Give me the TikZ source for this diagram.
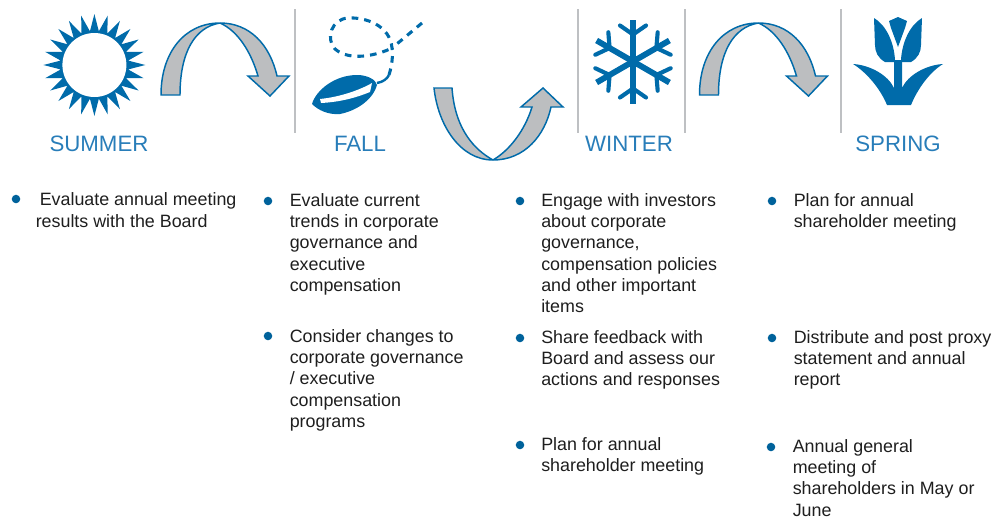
\documentclass[tikz,border=0pt]{standalone}
\usepackage{fontspec}
\setmainfont{Liberation Sans}
\usetikzlibrary{shapes.geometric}
\definecolor{iconblue}{RGB}{0,107,170}
\definecolor{labelblue}{RGB}{40,125,185}
\definecolor{bulletblue}{RGB}{0,98,155}
\definecolor{arrowfill}{RGB}{188,190,192}
\definecolor{rulegray}{RGB}{190,192,195}
\definecolor{bodytextcol}{RGB}{30,30,30}
\tikzset{
  season/.style={font=\fontsize{16.7}{20}\selectfont, text=labelblue, inner sep=0pt},
  bodytext/.style={anchor=north west, align=left, inner sep=0pt, text=bodytextcol, font=\fontsize{13.4}{16}\selectfont},
  bulletdot/.style={circle, fill=bulletblue, minimum size=6.4pt, inner sep=0pt},
  turnarrow/.style={draw=iconblue, fill=arrowfill, line width=1.1pt, line join=miter},
  divider/.style={draw=rulegray, line width=1.1pt},
  icon/.style={fill=iconblue, draw=none},
  flakeline/.style={draw=iconblue, line width=4.4pt},
  flakebranch/.style={draw=iconblue, line width=3.1pt, line cap=round},
  loopdash/.style={draw=iconblue, line width=2.3pt, dash pattern=on 5pt off 4.5pt},
}
\begin{document}
\begin{tikzpicture}[x=0.75pt, y=-0.75pt]
  \useasboundingbox (0,0) rectangle (1008,522);

  % --- Dividers ---
  \foreach \xpos in {295,578,685,841}
    \draw[divider] (\xpos,9) -- (\xpos,133);

  % --- Sun ---
  \node[icon, star, star points=24, star point ratio=1.5, minimum size=76.5pt, inner sep=0pt] (sunrays) at (94.4,65) {};
  \node[circle, fill=white, minimum size=48pt, inner sep=0pt] (suncore) at (94.4,65) {};

  % --- Leaf ---
  \draw[loopdash] (389,75) .. controls (392,65) and (393,57) .. (392,48)
    .. controls (390,25) and (365,17) .. (348,18)
    .. controls (332,19) and (325,38) .. (335,49)
    .. controls (350,62) and (378,55) .. (392,48);
  \draw[loopdash] (422,23) -- (392,48);
  \fill[iconblue] (312,104) .. controls (316,90) and (335,75) .. (357,75)
    .. controls (368,75) and (376,80) .. (377,85)
    .. controls (374,97) and (360,110) .. (340,114)
    .. controls (328,115) and (318,110) .. cycle;
  \fill[white] (320,99) .. controls (340,97) and (360,90) .. (372,83) -- (370,92)
    .. controls (355,98) and (340,102) .. (321,103) -- cycle;
  \draw[iconblue, line width=1.8pt] (377,83) .. controls (383,82) and (387,79) .. (389,75);

  % --- Snowflake ---
  \foreach \ang in {0,60,...,300} {
    \begin{scope}[shift={(633,61.5)}, rotate=\ang]
      \draw[flakeline] (0,0) -- (0,-42);
      \draw[flakebranch] (0,-27) -- (-13,-36);
      \draw[flakebranch] (0,-27) -- (13,-36);
    \end{scope}
  }

  % --- Tulip ---
  \fill[iconblue] (853,64) .. controls (870,65) and (888,75) .. (894,88) -- (894,60) -- (902,60) -- (902,88)
    .. controls (908,75) and (926,65) .. (943,64)
    .. controls (930,72) and (918,88) .. (911,105) -- (887,105)
    .. controls (880,88) and (866,72) .. cycle;
  \fill[iconblue] (874,18) .. controls (886,25) and (894,42) .. (895,60) -- (895,62) -- (885,62)
    .. controls (878,58) and (875,52) .. (875,45) -- cycle;
  \fill[iconblue] (922,18) .. controls (910,25) and (902,42) .. (901,60) -- (901,62) -- (911,62)
    .. controls (918,58) and (921,52) .. (921,45) -- cycle;
  \fill[iconblue] (898,17) -- (907,21) -- (905,28) -- (898,47) -- (891,28) -- (889,21) -- cycle;

  % --- Turn arrows ---
  \foreach \xoff in {0,538.5}
    \draw[turnarrow, xshift=\xoff*0.75pt] (161,95) .. controls (161,52) and (185,23) .. (220,23)
      .. controls (250,23) and (270,45) .. (277,76) -- (289,76) -- (270,96) -- (248,76) -- (258,76)
      .. controls (251,52) and (238,31) .. (220,23)
      .. controls (195,27) and (180,52) .. (180,95) -- cycle;
  \draw[turnarrow] (434,88) .. controls (438,125) and (460,160) .. (493,160)
    .. controls (525,160) and (545,135) .. (551,107) -- (563,107) -- (543,88) -- (521,107) -- (532,107)
    .. controls (525,130) and (510,150) .. (493,160)
    .. controls (475,150) and (455,130) .. (452,88) -- cycle;

  % --- Season labels ---
  \node[season] (summer) at (99,144) {SUMMER};
  \node[season] (fall) at (360,144) {FALL};
  \node[season] (winter) at (629,144) {WINTER};
  \node[season] (spring) at (898,144) {SPRING};

  % --- Summer items ---
  \node[bulletdot] (bulsummer) at (16,199) {};
  \node[bodytext] (txtsummer) at (35.5,192.5) {\hspace{3pt}Evaluate annual meeting\\results with the Board};

  % --- Fall items ---
  \node[bulletdot] (bulfalla) at (268,201) {};
  \node[bodytext] (txtfalla) at (289.5,193) {Evaluate current\\trends in corporate\\governance and\\executive\\compensation};
  \node[bulletdot] (bulfallb) at (268,336) {};
  \node[bodytext] (txtfallb) at (289.5,329) {Consider changes to\\corporate governance\\/ executive\\compensation\\programs};

  % --- Winter items ---
  \node[bulletdot] (bulwintera) at (520,201) {};
  \node[bodytext] (txtwintera) at (541,193) {Engage with investors\\about corporate\\governance,\\compensation policies\\and other important\\items};
  \node[bulletdot] (bulwinterb) at (520,338) {};
  \node[bodytext] (txtwinterb) at (541,330) {Share feedback with\\Board and assess our\\actions and responses};
  \node[bulletdot] (bulwinterc) at (520,445) {};
  \node[bodytext] (txtwinterc) at (541,437) {Plan for annual\\shareholder meeting};

  % --- Spring items ---
  \node[bulletdot] (bulspringa) at (772,201) {};
  \node[bodytext] (txtspringa) at (793.5,193) {Plan for annual\\shareholder meeting};
  \node[bulletdot] (bulspringb) at (772,338) {};
  \node[bodytext] (txtspringb) at (793.5,330) {Distribute and post proxy\\statement and annual\\report};
  \node[bulletdot] (bulspringc) at (771,447) {};
  \node[bodytext] (txtspringc) at (792.5,439) {Annual general\\meeting of\\shareholders in May or\\June};

\end{tikzpicture}
\end{document}
